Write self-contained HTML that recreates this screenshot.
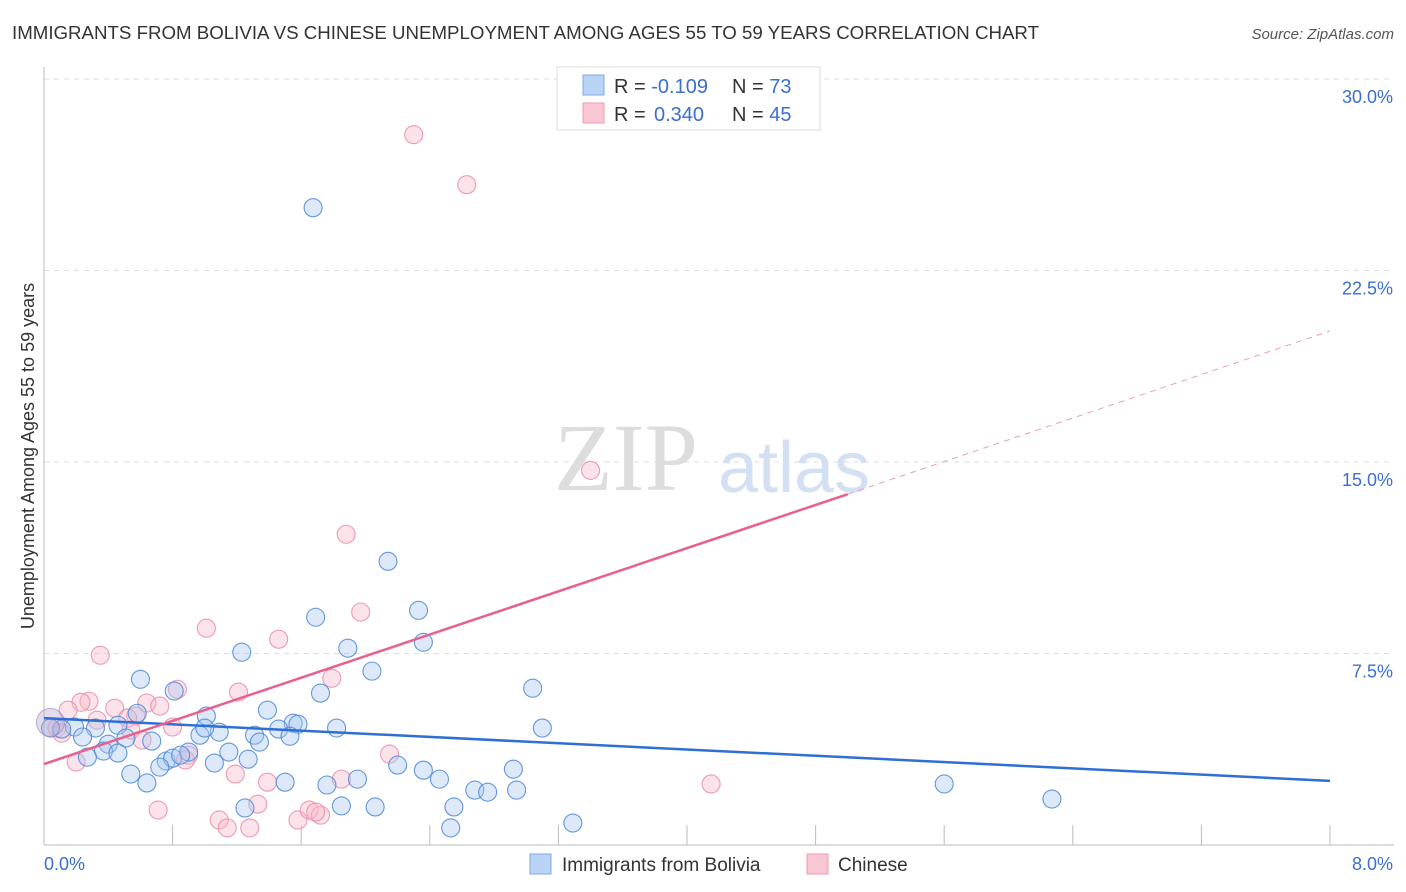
<!DOCTYPE html>
<html><head><meta charset="utf-8"><style>
body{margin:0;background:#fff;font-family:"Liberation Sans",sans-serif;}
svg{display:block}
</style></head><body>
<svg id="chart" width="1406" height="892">
<text x="12" y="39" font-size="18.7" fill="#333">IMMIGRANTS FROM BOLIVIA VS CHINESE UNEMPLOYMENT AMONG AGES 55 TO 59 YEARS CORRELATION CHART</text>
<text x="1394" y="39" font-size="15" fill="#555" font-style="italic" text-anchor="end">Source: ZipAtlas.com</text>
<g id="grid"></g>
<text x="554" y="490" font-size="96" fill="#ddd" font-family="Liberation Serif,serif">ZIP</text>
<text x="718" y="492" font-size="72" fill="#d3e0f3">atlas</text>
<g id="points"></g>
<g id="lines"></g>
<text transform="translate(34,456) rotate(-90)" font-size="18" fill="#333" text-anchor="middle">Unemployment Among Ages 55 to 59 years</text>
<g>
<rect x="557" y="67" width="263" height="63" fill="#fff" stroke="#ddd"/>
<rect x="583" y="75" width="21" height="20" fill="#b9d3f5" stroke="#7ea8e6"/>
<rect x="583" y="103" width="21" height="20" fill="#f9c6d4" stroke="#ee9ab3"/>
<text x="614" y="93" font-size="20" fill="#333">R = <tspan fill="#3a6fd1">-0.109</tspan><tspan x="732">N = </tspan><tspan fill="#3a6fd1">73</tspan></text>
<text x="614" y="121" font-size="20" fill="#333">R = <tspan fill="#3a6fd1" x="654">0.340</tspan><tspan x="732">N = </tspan><tspan fill="#3a6fd1">45</tspan></text>
</g>
<g>
<rect x="530" y="854" width="21" height="20" fill="#b9d3f5" stroke="#7ea8e6"/>
<text x="562" y="871" font-size="19" fill="#333">Immigrants from Bolivia</text>
<rect x="807" y="854" width="21" height="20" fill="#f9c6d4" stroke="#ee9ab3"/>
<text x="838" y="871" font-size="19" fill="#333">Chinese</text>
</g>
</svg>
<script>
const xTicks=[0,0.8,1.6,2.4,3.2,4,4.8,5.6,6.4,7.2,8];
const yTicks=[7.5,15,22.5,30];
const yTickLabels=["7.5%","15.0%","22.5%","30.0%"];
const xTickLabels=["0.0%","8.0%"];
const blueX=[1.674,2.14,2.33,2.36,1.69,1.89,2.04,3.04,3.10,1.23,0.60,0.81,1.72,1.39,1.01,0.58,1.55,1.58,1.82,1.46,1.09,1.31,1.53,1.34,0.97,1.00,0.67,0.46,0.32,0.19,0.11,0.04,0.24,0.40,0.51,0.37,0.46,0.27,0.90,1.15,1.27,0.76,0.80,0.85,1.06,0.72,0.54,0.64,1.50,1.76,1.95,2.20,2.36,2.46,2.68,2.76,2.94,2.92,1.25,1.85,2.06,2.55,2.53,3.29,5.60,6.27];
const blueY=[24.96,11.11,9.19,7.94,8.92,7.71,6.81,6.14,4.58,7.55,6.49,6.03,5.95,5.28,5.05,5.16,4.77,4.73,4.58,4.54,4.42,4.30,4.26,4.03,4.30,4.58,4.07,4.69,4.58,4.62,4.54,4.58,4.23,3.95,4.19,3.68,3.60,3.44,3.64,3.64,3.36,3.29,3.40,3.52,3.21,3.05,2.78,2.43,2.46,2.35,2.58,3.13,2.93,2.58,2.15,2.07,2.15,2.97,1.45,1.53,1.49,1.49,0.67,0.86,2.39,1.80];
const pinkX=[2.30,2.63,3.40,1.88,1.97,1.01,1.46,0.35,1.79,1.21,0.83,0.28,0.23,0.64,0.44,0.72,0.15,0.57,0.33,0.52,0.80,0.54,0.08,0.11,0.61,0.90,0.88,0.20,2.15,1.19,1.39,1.85,4.15,0.71,1.33,1.09,1.14,1.28,1.58,1.65,1.72,1.69];
const pinkY=[27.82,25.86,14.67,12.17,9.12,8.49,8.06,7.43,6.53,5.99,6.10,5.63,5.59,5.56,5.36,5.44,5.28,5.05,4.89,4.97,4.62,4.50,4.58,4.38,4.11,3.52,3.33,3.25,3.56,2.78,2.46,2.58,2.39,1.37,1.60,0.98,0.67,0.67,0.98,1.37,1.17,1.29];
const blueTrend=[[0,4.97],[8,2.51]];
const pinkTrend=[[0,3.17],[5.0,13.74],[8,20.13]];
const X=v=>44+v*(1286/8), Y=v=>845-v*(766/30);
const NS='http://www.w3.org/2000/svg';
function mk(t,a,p){const e=document.createElementNS(NS,t);for(const k in a)e.setAttribute(k,a[k]);p.appendChild(e);return e;}
const grid=document.getElementById('grid');
yTicks.forEach((t,i)=>{
 const l=mk('line',{x1:44,x2:1394,y1:Y(t),y2:Y(t),stroke:'#ddd','stroke-dasharray':'5,5'},grid);
 
 
 const tx=mk('text',{x:1393,y:Y(t)+24,'font-size':18,fill:'#3a6fd1','text-anchor':'end'},grid);
 tx.textContent=yTickLabels[i];
 
 
});
mk('line',{x1:44,x2:44,y1:67,y2:845,stroke:'#bbb'},grid);
mk('line',{x1:44,x2:1394,y1:845,y2:845,stroke:'#bbb'},grid);
xTicks.forEach(t=>{const l=mk('line',{x1:X(t),x2:X(t),y1:825,y2:845,stroke:'#bbb'},grid);
 
 });
[[0,44,'start'],[8,1393,'end']].forEach((d,i)=>{const tx=mk('text',{x:d[1],y:870,'font-size':18,fill:'#3a6fd1','text-anchor':d[2]},grid);tx.textContent=xTickLabels[i];
 
 });
const pts=document.getElementById('points');
function dots(xs,ys,fill,stroke,name){xs.forEach((x,i)=>{const c=mk('circle',{cx:X(x),cy:Y(ys[i]),r:9,fill:fill,'fill-opacity':0.4,stroke:stroke,'stroke-width':1.1,'stroke-opacity':0.85},pts);
 
 });}
dots(pinkX,pinkY,'#f7b9cb','#ea8aa8','point-chinese');
dots(blueX,blueY,'#a9c8f0','#4a86d8','point-bolivia');
const big=mk('circle',{cx:X(0.04),cy:Y(4.8),r:14,fill:'#b9a7d3','fill-opacity':0.4,stroke:'#a38fc8','stroke-opacity':0.7},pts);


const ln=document.getElementById('lines');
const b=mk('line',{x1:X(blueTrend[0][0]),y1:Y(blueTrend[0][1]),x2:X(blueTrend[1][0]),y2:Y(blueTrend[1][1]),stroke:'#2f6fd4','stroke-width':2.5},ln);


const p=mk('line',{x1:X(pinkTrend[0][0]),y1:Y(pinkTrend[0][1]),x2:X(pinkTrend[1][0]),y2:Y(pinkTrend[1][1]),stroke:'#e8608e','stroke-width':2.5},ln);


const pd=mk('line',{x1:X(pinkTrend[1][0]),y1:Y(pinkTrend[1][1]),x2:X(pinkTrend[2][0]),y2:Y(pinkTrend[2][1]),stroke:'#e8a0b8','stroke-width':1,'stroke-dasharray':'6,5'},ln);


</script>
</body></html>
